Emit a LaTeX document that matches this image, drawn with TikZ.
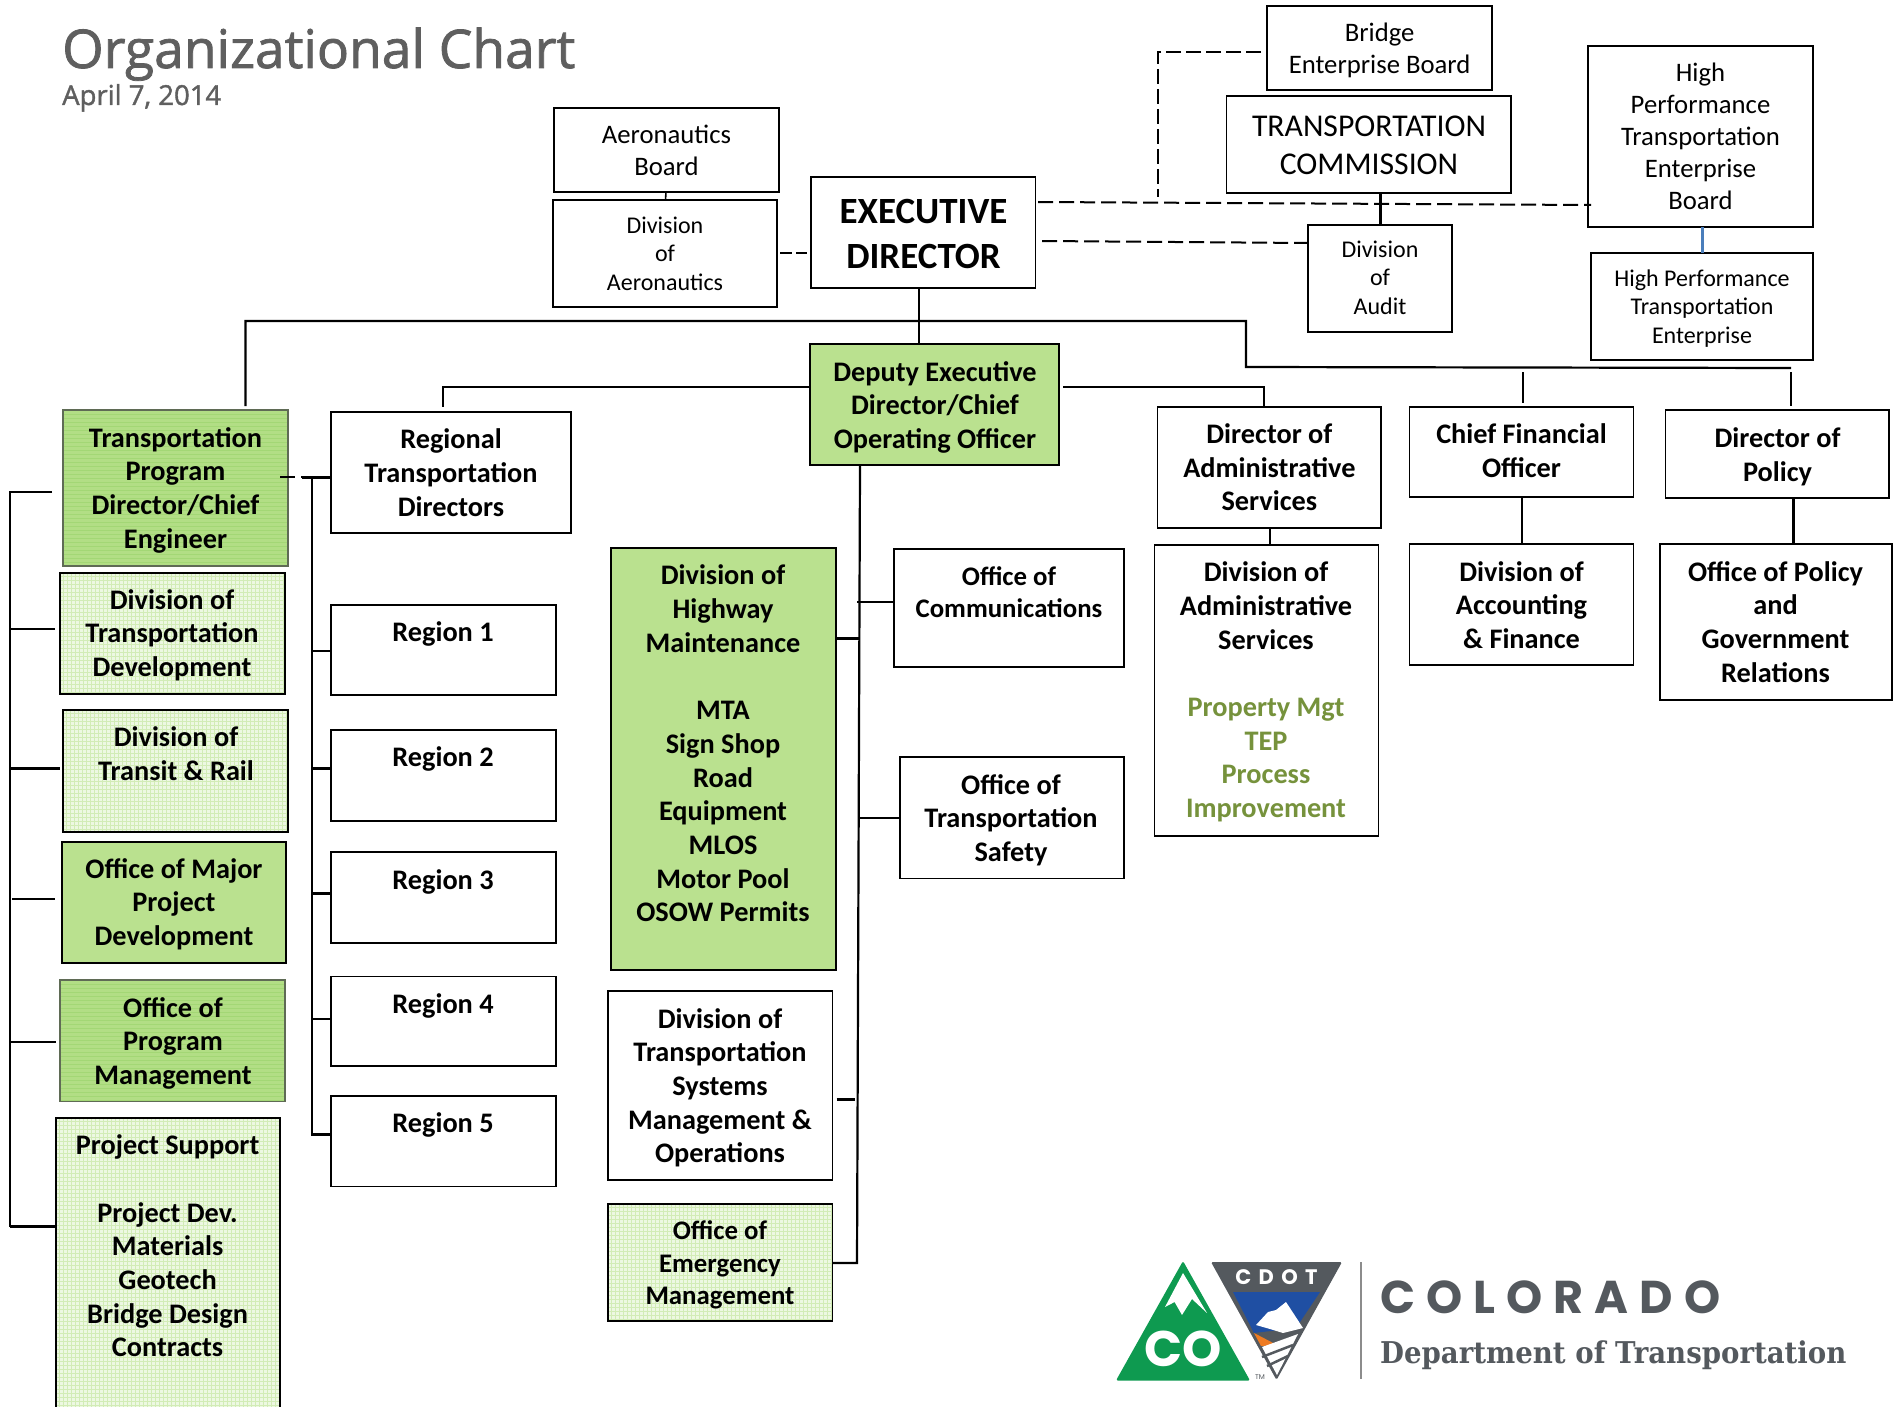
\documentclass[tikz,border=0pt]{standalone}
\usepackage{fontspec}
\setmainfont{Carlito}
\newfontfamily\titlefont{Open Sans}
\newfontfamily\logosans{Poppins}
\newfontfamily\logoserif{DejaVu Serif}
\usetikzlibrary{calc}
\definecolor{darkgreen}{HTML}{BAE18F}
\definecolor{linegreen}{HTML}{B2DE85}
\definecolor{stripegreen}{HTML}{A3D775}
\definecolor{gridgreen}{HTML}{D2ECB6}
\definecolor{palegreen}{HTML}{EDF8E2}
\definecolor{txtgreen}{HTML}{76923C}
\definecolor{titlegray}{HTML}{5F5F5F}
\definecolor{logogreen}{HTML}{0E9A50}
\definecolor{logogray}{HTML}{54595E}
\definecolor{logoblue}{HTML}{1F4FA3}
\definecolor{logoorange}{HTML}{EE7B22}
\definecolor{linkblue}{HTML}{4A7EBB}
\definecolor{boxedgegray}{HTML}{5F6B55}
\tikzset{
  boxbase/.style={rectangle,draw=black,line width=1.9pt,inner sep=0pt,outer sep=0pt},
  whitebox/.style={boxbase,fill=white},
  darkbox/.style={boxbase,fill=darkgreen},
  linedbox/.style={boxbase,draw=boxedgegray,fill=linegreen,path picture={
    \foreach \i in {4,8,...,200}{\draw[stripegreen,line width=.7pt] ([yshift=-\i pt]path picture bounding box.north west)--([yshift=-\i pt]path picture bounding box.north east);}}},
  lightbox/.style={boxbase,fill=palegreen,path picture={
    \foreach \i in {3,7,...,300}{\draw[gridgreen,line width=.9pt] ([xshift=\i pt]path picture bounding box.north west)--([xshift=\i pt]path picture bounding box.south west);
    \draw[gridgreen,line width=.9pt] ([yshift=-\i pt]path picture bounding box.north west)--([yshift=-\i pt]path picture bounding box.north east);}}},
  txtbold/.style={align=center,inner sep=0pt,font=\fontsize{28.3}{33.7}\selectfont\bfseries},
  txtboldsmall/.style={align=center,inner sep=0pt,font=\fontsize{26.8}{32.5}\selectfont\bfseries},
  txtboard/.style={align=center,inner sep=0pt,font=\fontsize{26.7}{32}\selectfont},
  txtsmall/.style={align=center,inner sep=0pt,font=\fontsize{24}{28.7}\selectfont},
  conn/.style={draw=black,line width=2.2pt},
  connthick/.style={draw=black,line width=3pt},
  connthin/.style={draw=black,line width=1.6pt},
  dashconn/.style={draw=black,line width=2pt,dash pattern=on 15pt off 6pt},
  logoshape/.style={line join=round,rounded corners=1.5pt}
}
\newcommand{\BX}[6]{%
  \pgfmathsetmacro\bxw{#4-#2}\pgfmathsetmacro\bxh{#5-#3}%
  \pgfmathsetmacro\bxcx{(#2+#4)/2}\pgfmathsetmacro\bxcy{(#3+#5)/2}%
  \node[#6,minimum width=\bxw pt,minimum height=\bxh pt] (#1) at (\bxcx,\bxcy) {};}
\newcommand{\TX}[5]{\node[#4,yshift=-3pt] (#1) at (#2,#3) {\strut #5\strut};}
\begin{document}
\begin{tikzpicture}[x=1pt,y=-1pt]
\path[use as bounding box] (0,0) rectangle (1900,1407);
\clip (0,0) rectangle (1900,1407);

% title
\node[anchor=base west,inner sep=0pt,text=titlegray,font=\fontsize{53.3}{60}\selectfont\titlefont\addfontfeature{FakeBold=1.5}] (title) at (62,68) {Organizational Chart};
\node[anchor=base west,inner sep=0pt,text=titlegray,font=\fontsize{27.5}{30}\selectfont\titlefont\addfontfeature{FakeBold=1.5}] (date) at (62,105) {April 7, 2014};

% boxes
\BX{aerob}{554}{108}{779}{192}{whitebox}
\BX{aerod}{553}{200}{777}{307}{whitebox}
\BX{ed}{811}{177}{1035.5}{288}{whitebox}
\BX{bridge}{1267}{6}{1492}{90}{whitebox}
\BX{comm}{1226.5}{96}{1511}{193}{whitebox}
\BX{audit}{1308}{225}{1452}{332}{whitebox}
\BX{hpteb}{1588}{46}{1813}{227}{whitebox}
\BX{hpte}{1591}{253}{1813}{360}{whitebox}
\BX{deputy}{810}{344}{1059}{465}{darkbox}
\BX{tpd}{63}{410}{288}{566}{linedbox}
\BX{dtd}{60}{573}{285}{694}{lightbox}
\BX{transit}{63}{710}{288}{832}{lightbox}
\BX{major}{62}{842}{286}{963}{darkbox}
\BX{opm}{60}{980}{285}{1101.5}{linedbox}
\BX{psup}{56}{1118}{280}{1420}{lightbox}
\BX{regional}{331}{412}{571}{533}{whitebox}
\BX{r1}{331}{605}{556}{695}{whitebox}
\BX{r2}{331}{730}{556}{821}{whitebox}
\BX{r3}{331}{852}{556}{943}{whitebox}
\BX{r4}{331}{976.5}{556}{1066}{whitebox}
\BX{r5}{331}{1096}{556}{1186.5}{whitebox}
\BX{highway}{611}{548}{836}{970}{darkbox}
\BX{dtsmo}{608}{991}{832.5}{1180}{whitebox}
\BX{oem}{608}{1204}{832.5}{1321}{lightbox}
\BX{ocomm}{894}{549}{1124}{667}{whitebox}
\BX{ots}{900}{757}{1124}{878.5}{whitebox}
\BX{diradm}{1157.5}{407}{1381}{528}{whitebox}
\BX{divadm}{1154.5}{545}{1378.5}{836}{whitebox}
\BX{cfo}{1409.5}{407}{1633.5}{497}{whitebox}
\BX{divacc}{1409.5}{544}{1633.5}{665}{whitebox}
\BX{dirpol}{1665.5}{410}{1889}{498}{whitebox}
\BX{offpol}{1660}{544}{1892}{700}{whitebox}

% texts
\TX{taerob}{666.5}{150}{txtboard}{Aeronautics\\Board}
\TX{taerod}{665}{253}{txtsmall}{Division\\of\\Aeronautics}
\TX{ted}{923.5}{233.5}{align=center,inner sep=0pt,font=\fontsize{37}{45}\selectfont\bfseries}{EXECUTIVE\\DIRECTOR}
\TX{tbridge}{1379.6}{48}{txtboard}{Bridge\\Enterprise Board}
\TX{tcomm}{1369}{144.5}{align=center,inner sep=0pt,font=\fontsize{31.7}{38}\selectfont}{TRANSPORTATION\\COMMISSION}
\TX{taudit}{1380}{277}{txtsmall}{Division\\of\\Audit}
\TX{thpteb}{1700.5}{136}{txtboard}{High\\Performance\\Transportation\\Enterprise\\Board}
\TX{thpte}{1702}{306}{txtsmall}{High Performance\\Transportation\\Enterprise}
\TX{tdeputy}{935}{405}{txtbold}{Deputy Executive\\Director/Chief\\Operating Officer}
\TX{ttpd}{175.5}{488}{txtbold}{Transportation\\Program\\Director/Chief\\Engineer}
\TX{tdtd}{172}{633}{txtbold}{Division of\\Transportation\\Development}
\TX{ttransit}{176}{754}{txtbold}{Division of\\Transit \& Rail}
\TX{tmajor}{174}{902}{txtbold}{Office of Major\\Project\\Development}
\TX{topm}{173}{1041}{txtbold}{Office of\\Program\\Management}
\TX{tpsup}{167.6}{1246}{txtbold}{Project Support\\[33.7pt]Project Dev.\\Materials\\Geotech\\Bridge Design\\Contracts}
\TX{tregional}{451}{472.7}{txtbold}{Regional\\Transportation\\Directors}
\TX{tr1}{443}{632}{txtbold}{Region 1}
\TX{tr2}{443}{757}{txtbold}{Region 2}
\TX{tr3}{443}{880}{txtbold}{Region 3}
\TX{tr4}{443}{1003.5}{txtbold}{Region 4}
\TX{tr5}{443}{1123}{txtbold}{Region 5}
\TX{thighway}{723}{743.6}{txtbold}{Division of\\Highway\\Maintenance\\[33.7pt]MTA\\Sign Shop\\Road\\Equipment\\MLOS\\Motor Pool\\OSOW Permits}
\TX{tdtsmo}{720}{1085.7}{txtbold}{Division of\\Transportation\\Systems\\Management \&\\Operations}
\TX{toem}{720}{1262.7}{txtboldsmall}{Office of\\Emergency\\Management}
\TX{tocomm}{1009}{592}{txtboldsmall}{Office of\\Communications}
\TX{tots}{1011}{818}{txtbold}{Office of\\Transportation\\Safety}
\TX{tdiradm}{1269.4}{467.3}{txtbold}{Director of\\Administrative\\Services}
\TX{tdivadm}{1266}{690}{txtbold}{Division of\\Administrative\\Services\\[33.7pt]\textcolor{txtgreen}{Property Mgt}\\\textcolor{txtgreen}{TEP}\\\textcolor{txtgreen}{Process}\\\textcolor{txtgreen}{Improvement}}
\TX{tcfo}{1521.5}{450.7}{txtbold}{Chief Financial\\Officer}
\TX{tdivacc}{1521.5}{605}{txtbold}{Division of\\Accounting\\\& Finance}
\TX{tdirpol}{1777.5}{454.5}{txtbold}{Director of\\Policy}
\TX{toffpol}{1775.5}{622}{txtbold}{Office of Policy\\and\\Government\\Relations}

% top-level connectors
\coordinate (hl) at (245.5,321);
\coordinate (hm) at (919,321);
\coordinate (hr) at (1246,321);
\coordinate (hr2) at (1246,367);
\coordinate (hr3) at (1791,368);
\coordinate (cfotop) at (1523,372);
\coordinate (poltop) at (1791,372);
\draw[connthin] (ed.south -| hm) -- (hm) -- (deputy.north -| hm);
\draw[conn] (tpd.north -| hl) [shorten <=4pt] -- (hl) -- (hr) -- (hr2) -- (hr3);
\draw[conn,shorten >=4pt] (cfotop) -- (cfo.north -| cfotop);
\draw[conn,shorten >=4pt] (poltop) -- (dirpol.north -| poltop);

% deputy side branches
\coordinate (dl) at (443,387);
\coordinate (dr) at (1264,387);
\draw[conn,shorten >=5pt] (deputy.west |- dl) -- (dl) -- (regional.north -| dl);
\draw[conn] (deputy.east |- dr) [shorten <=4pt] -- (dr) -- (diradm.north -| dr);

% left bus
\coordinate (lb0) at (10,492);
\coordinate (lb1) at (10,629);
\coordinate (lb2) at (10,768);
\coordinate (lb3) at (10,899);
\coordinate (lb4) at (10,1042);
\coordinate (lb5) at (10,1226);
\draw[conn] (tpd.west |- lb0) [shorten <=11pt] -- (lb0) -- (lb5) -- (psup.west |- lb5);
\draw[conn,shorten >=5pt] (lb1) -- (dtd.west |- lb1);
\draw[connthick,shorten >=3pt] (lb2) -- (transit.west |- lb2);
\draw[conn,shorten <=2pt,shorten >=7pt] (lb3) -- (major.west |- lb3);
\draw[conn,shorten >=4pt] (lb4) -- (opm.west |- lb4);
\draw[connthick] (lb5) -- (psup.west |- lb5);

% region bus
\coordinate (rb0) at (312,477);
\coordinate (rb0d) at (302,477);
\coordinate (rb1) at (312,651);
\coordinate (rb2) at (312,768);
\coordinate (rb3) at (312,893);
\coordinate (rb4) at (312,1019);
\coordinate (rb5) at (312,1134.5);
\draw[dashconn] (tpd.east |- rb0) [shorten <=-8pt] -- (rb0d);
\draw[connthick] (rb0d) -- (regional.west |- rb0);
\draw[conn] (rb0) -- (rb5) -- (r5.west |- rb5);
\draw[conn] (rb1) -- (r1.west |- rb1);
\draw[connthick] (rb2) -- (r2.west |- rb2);
\draw[connthick] (rb3) -- (r3.west |- rb3);
\draw[conn] (rb4) -- (r4.west |- rb4);

% middle bus
\coordinate (mb0) at (860,465);
\coordinate (mb2) at (857,1263);
\coordinate (mbc) at (857,602);
\coordinate (mbh) at (859,638.5);
\coordinate (mbs) at (859,818);
\coordinate (mbd) at (855,1099);
\draw[conn] (mb0) -- (mb2) -- (oem.east |- mb2);
\draw[conn] (mbc) -- (ocomm.west |- mbc);
\draw[conn] (highway.east |- mbh) -- (mbh);
\draw[conn] (mbs) -- (ots.west |- mbs);
\draw[connthick] (dtsmo.east |- mbd) [shorten <=4pt] -- (mbd);

% verticals between paired boxes
\draw[connthin] ($(aerob.south)+(-.5,0)$) -- ($(aerod.north)+(.5,0)$);
\draw[connthick] (comm.south -| audit.north) -- (audit.north);
\draw[line width=2.2pt,draw=linkblue] ($(hpteb.south)+(2,0)$) -- ($(hpte.north)+(0.5,0)$);
\coordinate (adm) at (1270,530);
\draw[conn] (diradm.south -| adm) -- (divadm.north -| adm);
\coordinate (acc) at (1522,530);
\draw[conn] (cfo.south -| acc) -- (divacc.north -| acc);
\coordinate (pol) at (1793.5,530);
\draw[connthick] (dirpol.south -| pol) -- (offpol.north -| pol);

% dashed connectors
\coordinate (ed1) at (1038,202);
\coordinate (hp1) at (1591,205);
\coordinate (ed2) at (1042,241);
\coordinate (au2) at (1308,243);
\coordinate (br1) at (1158,52);
\coordinate (br2) at (1158,197);
\coordinate (aer) at (777,253);
\draw[dashconn] (ed1) -- (hp1);
\draw[dashconn] (ed2) -- (au2);
\draw[dashconn,dash pattern=on 12pt off 4pt,shorten >=4pt,shorten <=3pt] (aer) -- (ed.west |- aer);
\draw[dashconn,dash pattern=on 15pt off 5pt] ($(bridge.west |- br1)+(-6,0)$) -- (br1) -- (br2);

% logo
\begin{scope}
\fill[logogreen,logoshape] (1183,1261) -- (1250,1380.5) -- (1116,1380.5) -- cycle;
\fill[white] (1183,1273) -- (1207,1313) -- (1192,1299) -- (1182,1315) -- (1174.6,1302) -- (1165,1307) -- cycle;
\node[text=white,inner sep=0pt,font=\fontsize{50}{50}\selectfont\logosans\bfseries] (logoco) at (1183.5,1349) {CO};
\fill[logogray,logoshape] (1211,1262) -- (1342,1262) -- (1276.5,1380) -- cycle;
\node[text=white,inner sep=0pt,font=\fontsize{21}{21}\selectfont\logosans\bfseries\addfontfeature{LetterSpace=35}] (logocdot) at (1276.5,1277) {CDOT};
\fill[logoblue] (1233,1292) -- (1320,1292) -- (1296,1328) -- (1254,1333) -- cycle;
\fill[white] (1286,1302) -- (1303,1328) -- (1283,1333) -- (1270,1329) -- (1256,1325) -- (1268,1312) -- (1276,1310) -- cycle;
\fill[logoorange] (1254,1333) -- (1277,1345) -- (1261,1346) -- cycle;
\fill[white] (1262,1347) -- (1298,1334) -- (1277,1375) -- cycle;
\draw[logogray,line width=2.5pt] (1262,1357) -- (1293,1345) (1267,1366) -- (1288,1356);
\node[text=logogray,inner sep=0pt,font=\fontsize{7}{7}\selectfont\logosans] (logotm) at (1260,1377) {TM};
\draw[black!45,line width=1.2pt] (1361,1262) -- (1361,1379);
\node[anchor=base west,text=logogray,inner sep=0pt,font=\fontsize{46}{46}\selectfont\logosans\bfseries\addfontfeature{LetterSpace=24}] (logocol) at (1380,1313) {COLORADO};
\node[anchor=base west,text=logogray,inner sep=0pt,font=\fontsize{30}{30}\selectfont\logoserif\bfseries\addfontfeature{FakeStretch=0.92}] (logodept) at (1380,1363) {Department of Transportation};
\end{scope}
\end{tikzpicture}
\end{document}
